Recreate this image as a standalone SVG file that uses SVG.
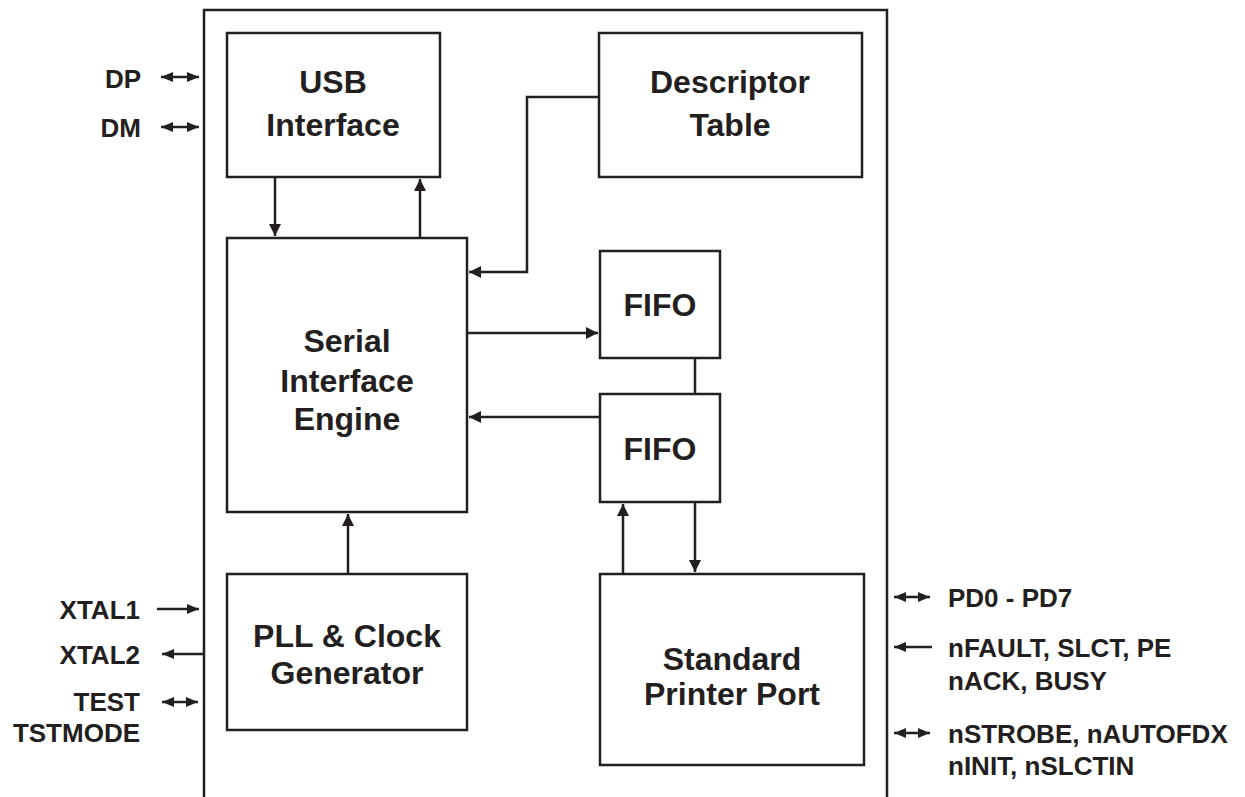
<svg xmlns="http://www.w3.org/2000/svg" width="1245" height="797" viewBox="0 0 1245 797">
<style>
.box{fill:#fff;stroke:#231f20;stroke-width:2.5}
.ln{fill:none;stroke:#231f20;stroke-width:2.5}
.nt{font-family:"Liberation Sans",Arial,sans-serif;font-weight:bold;font-size:32px;fill:#231f20;text-anchor:middle}
.lb{font-family:"Liberation Sans",Arial,sans-serif;font-weight:bold;font-size:26px;fill:#231f20}
.r{text-anchor:end}
</style>
<defs>
<marker id="ah" markerWidth="12" markerHeight="12" refX="12" refY="6" orient="auto-start-reverse" markerUnits="userSpaceOnUse">
<path d="M0,0 L12,6 L0,12 Z" fill="#231f20"/>
</marker>
<marker id="ahs" markerWidth="12" markerHeight="10" refX="12" refY="5" orient="auto-start-reverse" markerUnits="userSpaceOnUse">
<path d="M0,0 L12,5 L0,10 Z" fill="#231f20"/>
</marker>
</defs>
<rect width="1245" height="797" fill="#fff"/>
<g id="chip"><path class="ln" d="M204,797 V10 H887 V797"/></g>
<g id="usb"><rect class="box" x="227" y="33" width="213" height="144"/><text class="nt" x="333" y="93">USB</text><text class="nt" x="333" y="136">Interface</text></g>
<g id="desc"><rect class="box" x="599" y="33" width="263" height="144"/><text class="nt" x="730" y="93">Descriptor</text><text class="nt" x="730" y="136">Table</text></g>
<g id="sie"><rect class="box" x="227" y="238" width="240" height="274"/><text class="nt" x="347" y="352">Serial</text><text class="nt" x="347" y="392">Interface</text><text class="nt" x="347" y="430">Engine</text></g>
<g id="fifo1"><rect class="box" x="600" y="251" width="120" height="107"/><text class="nt" x="660" y="316">FIFO</text></g>
<g id="fifo2"><rect class="box" x="600" y="394" width="120" height="108"/><text class="nt" x="660" y="460">FIFO</text></g>
<g id="pll"><rect class="box" x="227" y="574" width="240" height="156"/><text class="nt" x="347" y="647">PLL &amp; Clock</text><text class="nt" x="347" y="684">Generator</text></g>
<g id="spp"><rect class="box" x="600" y="574" width="264" height="191"/><text class="nt" x="732" y="670">Standard</text><text class="nt" x="732" y="705">Printer Port</text></g>
<g id="connectors">
<path class="ln" d="M275,177 V236" marker-end="url(#ah)"/>
<path class="ln" d="M420,238 V179" marker-end="url(#ah)"/>
<path class="ln" d="M599,97 H527 V272 H469" marker-end="url(#ah)"/>
<path class="ln" d="M467,333 H598" marker-end="url(#ah)"/>
<path class="ln" d="M600,417 H469" marker-end="url(#ah)"/>
<path class="ln" d="M695,358 V394"/>
<path class="ln" d="M623,574 V504" marker-end="url(#ah)"/>
<path class="ln" d="M695,502 V572" marker-end="url(#ah)"/>
<path class="ln" d="M348,574 V514" marker-end="url(#ah)"/>
<path class="ln" d="M161,77 H199" marker-start="url(#ahs)" marker-end="url(#ahs)"/>
<path class="ln" d="M161,127 H199" marker-start="url(#ahs)" marker-end="url(#ahs)"/>
<path class="ln" d="M157,609 H199" marker-end="url(#ahs)"/>
<path class="ln" d="M204,654 H162" marker-end="url(#ahs)"/>
<path class="ln" d="M162,702 H198" marker-start="url(#ahs)" marker-end="url(#ahs)"/>
<path class="ln" d="M894,597 H930" marker-start="url(#ahs)" marker-end="url(#ahs)"/>
<path class="ln" d="M932,647 H894" marker-end="url(#ahs)"/>
<path class="ln" d="M894,733 H930" marker-start="url(#ahs)" marker-end="url(#ahs)"/>
</g>
<g id="labels">
<text class="lb r" x="141" y="88">DP</text>
<text class="lb r" x="141" y="137">DM</text>
<text class="lb r" x="140" y="619">XTAL1</text>
<text class="lb r" x="140" y="664">XTAL2</text>
<text class="lb r" x="140" y="711">TEST</text>
<text class="lb r" x="140" y="742">TSTMODE</text>
<text class="lb" x="948" y="607">PD0 - PD7</text>
<text class="lb" x="948" y="657">nFAULT, SLCT, PE</text>
<text class="lb" x="948" y="690">nACK, BUSY</text>
<text class="lb" x="948" y="743">nSTROBE, nAUTOFDX</text>
<text class="lb" x="948" y="775">nINIT, nSLCTIN</text>
</g>
</svg>
